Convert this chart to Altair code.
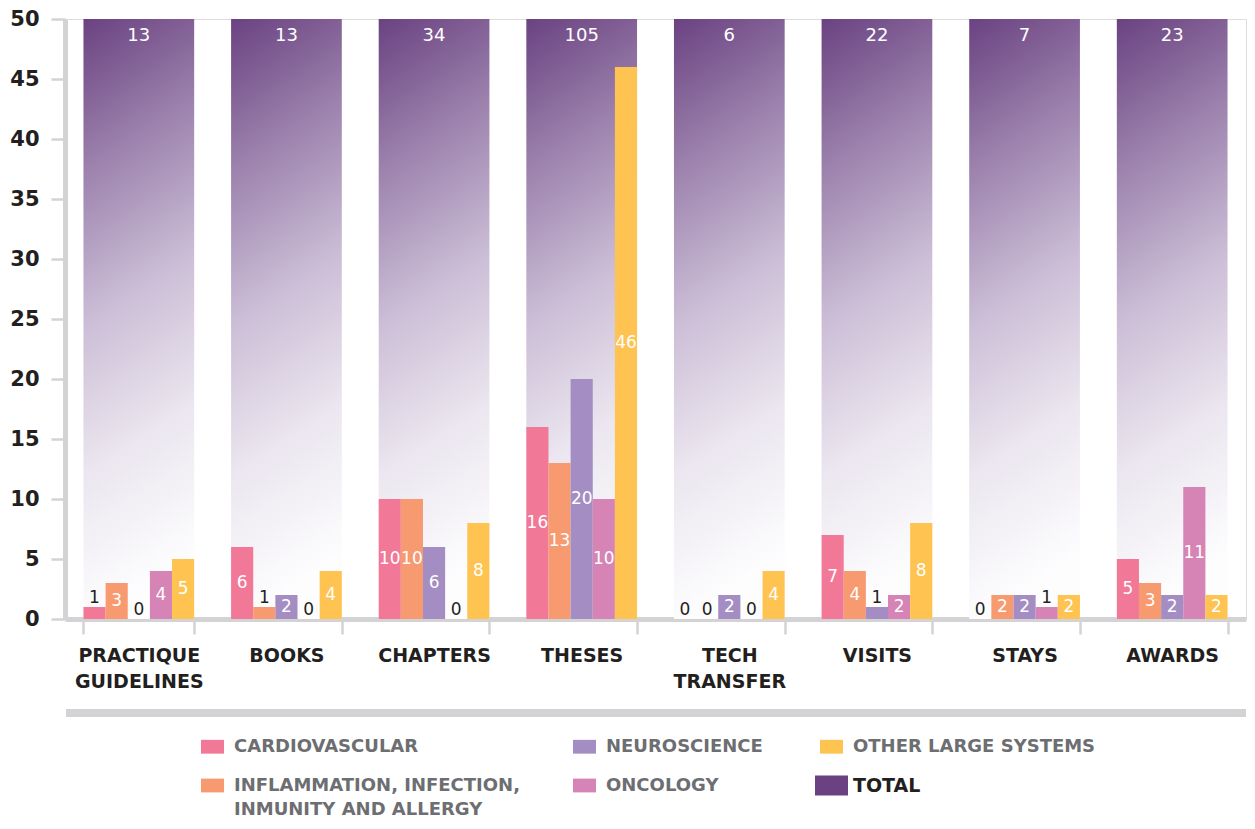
import altair as alt
import pandas as pd

CATEGORIES = ["PRACTIQUE GUIDELINES", "BOOKS", "CHAPTERS", "THESES",
              "TECH TRANSFER", "VISITS", "STAYS", "AWARDS"]
SERIES = ["CARDIOVASCULAR", "INFLAMMATION, INFECTION, INMUNITY AND ALLERGY",
          "NEUROSCIENCE", "ONCOLOGY", "OTHER LARGE SYSTEMS"]
CARDIOVASCULAR = [1, 6, 10, 16, 0, 7, 0, 5]
INFLAMMATION = [3, 1, 10, 13, 0, 4, 2, 3]
NEUROSCIENCE = [0, 2, 6, 20, 2, 1, 2, 2]
ONCOLOGY = [4, 0, 0, 10, 0, 2, 1, 11]
OTHER = [5, 4, 8, 46, 4, 8, 2, 2]
TOTALS = [13, 13, 34, 105, 6, 22, 7, 23]
Y_MAX = 50
Y_TICKS = list(range(0, 51, 5))

LEGEND_ORDER = SERIES + ["TOTAL"]
LEGEND_COLORS = ["#f27898", "#f79a70", "#a38dc3", "#d683b5", "#fec350", "#6a4281"]

rows = []
for name, vals in zip(SERIES, [CARDIOVASCULAR, INFLAMMATION, NEUROSCIENCE, ONCOLOGY, OTHER]):
    for c, v in zip(CATEGORIES, vals):
        rows.append({"category": c, "series": name, "value": v})
df = pd.DataFrame(rows)
tot = pd.DataFrame({"category": CATEGORIES, "total": TOTALS, "top": [Y_MAX] * len(CATEGORIES)})

W, H = 1181, 600
FONT = "DejaVu Sans"
GRAY = "#d3d3d5"

xenc = alt.X("category:N", sort=CATEGORIES,
             scale=alt.Scale(paddingInner=0.25, paddingOuter=0.125),
             axis=alt.Axis(title=None, labelAngle=0, tickBand="extent",
                           labelExpr="split(datum.label, ' ')",
                           labelFont=FONT, labelFontWeight="bold", labelFontSize=19,
                           labelColor="#231f20", labelLineHeight=26,
                           labelPadding=12, labelBaseline="top",
                           domainColor=GRAY, domainWidth=5,
                           tickColor=GRAY, tickWidth=2.5, tickSize=15))
yscale = alt.Scale(domain=[0, Y_MAX], nice=False)
yenc_axis = alt.Axis(title=None, values=Y_TICKS, grid=False,
                     labelFont=FONT, labelFontWeight="bold", labelFontSize=21,
                     labelColor="#231f20", labelPadding=12,
                     domainColor=GRAY, domainWidth=5,
                     tickColor=GRAY, tickWidth=2.5, tickSize=14)
xoff = alt.XOffset("series:N", sort=SERIES, scale=alt.Scale(paddingInner=0, paddingOuter=0))

grad = alt.LinearGradient(
    gradient="linear",
    stops=[alt.GradientStop(color="#6a4281", offset=0),
           alt.GradientStop(color="#9c82ad", offset=0.25),
           alt.GradientStop(color="#cbbdd6", offset=0.5),
           alt.GradientStop(color="#ebe6ef", offset=0.75),
           alt.GradientStop(color="#fdfdfe", offset=1)],
    x1=0, y1=0, x2=0.12, y2=1)

total_bars = alt.Chart(tot).mark_bar(fill=grad).encode(
    x=xenc,
    y=alt.Y("top:Q", scale=yscale, axis=yenc_axis),
    y2=alt.datum(0),
)
total_text = alt.Chart(tot).mark_text(color="white", font=FONT, fontSize=18,
                                      baseline="middle", dy=17).encode(
    x=alt.X("category:N", sort=CATEGORIES),
    y=alt.Y("top:Q", scale=yscale),
    text="total:Q",
)

bars = alt.Chart(df).mark_bar().encode(
    x=alt.X("category:N", sort=CATEGORIES),
    xOffset=xoff,
    y=alt.Y("value:Q", scale=yscale),
    color=alt.Color("series:N",
                    scale=alt.Scale(domain=LEGEND_ORDER, range=LEGEND_COLORS),
                    legend=alt.Legend(
                        title=None, orient="none", legendX=136, legendY=716,
                        columns=3, columnPadding=52, rowPadding=18,
                        symbolType="M-1,-0.6H1V0.6H-1Z",
                        symbolSize=alt.ExprRef("datum.value === 'TOTAL' ? 1089 : 529"),
                        symbolStrokeWidth=0, symbolOpacity=1,
                        labelFont=FONT, labelFontWeight="bold",
                        labelFontSize=alt.ExprRef("datum.value === 'TOTAL' ? 19 : 18"),
                        labelColor=alt.ExprRef("datum.value === 'TOTAL' ? '#231f20' : '#6d6e71'"),
                        labelLimit=500, labelOffset=10,
                        labelExpr="split(replace(datum.label, ', INMUNITY', ',|INMUNITY'), '|')",
                        )),
)

inside = alt.Chart(df).transform_filter("datum.value >= 2").transform_calculate(
    mid="datum.value / 2").mark_text(color="white", font=FONT, fontSize=17,
                                     baseline="middle").encode(
    x=alt.X("category:N", sort=CATEGORIES),
    xOffset=xoff,
    y=alt.Y("mid:Q", scale=yscale),
    text="value:Q",
)
outside = alt.Chart(df).transform_filter("datum.value < 2").mark_text(
    color="#231f20", font=FONT, fontSize=17, baseline="alphabetic", dy=-4).encode(
    x=alt.X("category:N", sort=CATEGORIES),
    xOffset=xoff,
    y=alt.Y("value:Q", scale=yscale),
    text="value:Q",
)

separator = alt.Chart(tot).mark_rule(color=GRAY, strokeWidth=8).encode(
    x=alt.value(1), x2=alt.value(W), y=alt.value(H + 94))

chart = alt.layer(total_bars, total_text, bars, inside, outside, separator).properties(
    width=W, height=H,
    padding={"left": 57, "top": 11, "right": 1, "bottom": 198},
    autosize=alt.AutoSizeParams(type="none"),
).configure_view(stroke=None).configure(
    style={"guide-label": {"lineHeight": 24}}
)

chart.save("out.html", embed_options={"renderer": "svg", "actions": False})
